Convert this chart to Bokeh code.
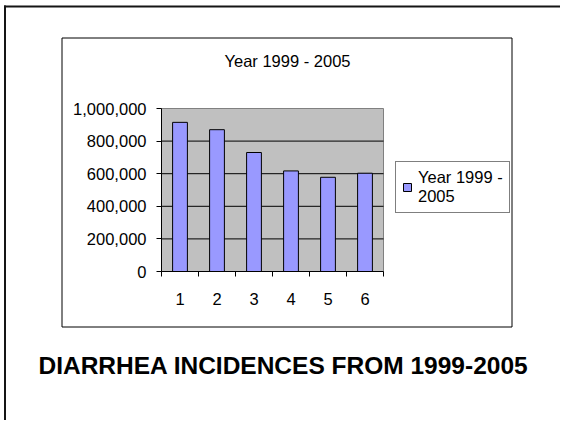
from bokeh.plotting import figure
from bokeh.models import (Range1d, FixedTicker, NumeralTickFormatter, Label,
                          BoxAnnotation, Legend, LegendItem, ColumnDataSource,
                          LinearAxis)
from bokeh.embed import file_html
from bokeh.resources import INLINE

# ---- data ----
categories = ["1", "2", "3", "4", "5", "6"]
incidences = [915000, 870000, 730000, 617000, 578000, 603000]
y_ticks = [0, 200000, 400000, 600000, 800000, 1000000]
series_name = "Year 1999 -\n2005"
chart_title = "Year 1999 - 2005"
caption = "DIARRHEA INCIDENCES FROM 1999-2005"

n = len(categories)
centers = [i + 0.5 for i in range(n)]
boundaries = [float(i) for i in range(n + 1)]
grid_vals = y_ticks[1:-1]

FONT = "Liberation Sans"
FS = "16.5px"

# ---- layout (canvas pixels) ----
W, H = 560, 420
PL, PR, PT, PB = 161, 383, 108, 271          # plot area inside canvas
x_per_px = n / (PR - PL)
y_per_px = y_ticks[-1] / (PB - PT)
x_range = Range1d(-PL * x_per_px, (W - PL) * x_per_px)
y_range = Range1d(-(H - PB) * y_per_px, PB * y_per_px)

def sy(py):   # canvas y (from top) -> screen units (from bottom)
    return H - py

p = figure(width=W, height=H, output_backend="svg", toolbar_location=None,
           x_range=x_range, y_range=y_range,
           min_border=0, min_border_left=0, min_border_right=0,
           min_border_top=0, min_border_bottom=0,
           background_fill_color="white", border_fill_color="white",
           outline_line_color=None)
p.xaxis.visible = False
p.yaxis.visible = False
p.xgrid.visible = False
p.ygrid.visible = False

# grey plot area
p.add_layout(BoxAnnotation(left=0, right=n, bottom=0, top=y_ticks[-1],
                           fill_color="#C0C0C0", fill_alpha=1,
                           line_color="#808080", line_alpha=1, line_width=1,
                           level="underlay"))
# horizontal grid lines
p.segment(x0=[0] * len(grid_vals), x1=[n] * len(grid_vals),
          y0=grid_vals, y1=grid_vals, line_color="black", line_width=1)

src = ColumnDataSource(dict(x=centers, top=incidences, label=categories))
bars = p.vbar(x="x", top="top", width=0.4, source=src,
              fill_color="#9999FF", line_color="black", line_width=1)

# y axis
yax = LinearAxis(ticker=FixedTicker(ticks=y_ticks),
                 formatter=NumeralTickFormatter(format="0,0"),
                 fixed_location=0, bounds=(0, y_ticks[-1]))
yax.major_tick_in = 0
yax.major_tick_out = 5
yax.minor_tick_line_color = None
yax.major_label_standoff = 10
yax.axis_line_color = "black"
yax.major_tick_line_color = "black"
yax.major_label_text_font = FONT
yax.major_label_text_font_size = FS
yax.major_label_text_color = "black"
p.add_layout(yax, "left")

# x axis: labels at centres, tick marks at category boundaries
xax = LinearAxis(ticker=FixedTicker(ticks=centers, minor_ticks=boundaries),
                 fixed_location=0, bounds=(0, n))
xax.major_label_overrides = {c: lab for c, lab in zip(centers, categories)}
xax.major_tick_line_color = None
xax.major_tick_in = 0
xax.major_tick_out = 0
xax.minor_tick_in = 0
xax.minor_tick_out = 5
xax.minor_tick_line_color = "black"
xax.major_label_standoff = 16
xax.axis_line_color = "black"
xax.major_label_text_font = FONT
xax.major_label_text_font_size = FS
xax.major_label_text_color = "black"
p.add_layout(xax, "below")

# outer slide frame: left and top edges as thin filled strips
for l, r, t, b in [(3.5, 5.5, 5, H), (3.5, W, 5, 7)]:
    p.add_layout(BoxAnnotation(left=l, right=r, top=sy(t), bottom=sy(b),
                               left_units="screen", right_units="screen",
                               top_units="screen", bottom_units="screen",
                               fill_color="#151515", fill_alpha=1,
                               line_color=None))
# chart area box
p.add_layout(BoxAnnotation(left=61.5, right=511.5, top=sy(37.5), bottom=sy(326.5),
                           left_units="screen", right_units="screen",
                           top_units="screen", bottom_units="screen",
                           fill_color=None, fill_alpha=0,
                           line_color="black", line_alpha=1, line_width=1))

p.add_layout(Label(x=287, y=sy(60.5), x_units="screen", y_units="screen",
                   text=chart_title, text_align="center",
                   text_baseline="middle", text_font=FONT,
                   text_font_size=FS, text_color="black"))
p.add_layout(Label(x=283, y=sy(365), x_units="screen", y_units="screen",
                   text=caption, text_align="center",
                   text_baseline="middle", text_font=FONT,
                   text_font_style="bold",
                   text_font_size="24.5px", text_color="black"))

legend = Legend(items=[LegendItem(label=series_name, renderers=[bars])],
                location=(395, sy(213)), margin=0, padding=6, spacing=0,
                label_standoff=6, glyph_width=10, glyph_height=10,
                label_text_font=FONT, label_text_font_size=FS,
                label_text_color="black",
                border_line_color="black", border_line_width=1,
                background_fill_color="white", background_fill_alpha=1)
p.add_layout(legend)

open("out.html", "w").write(file_html(p, INLINE))
